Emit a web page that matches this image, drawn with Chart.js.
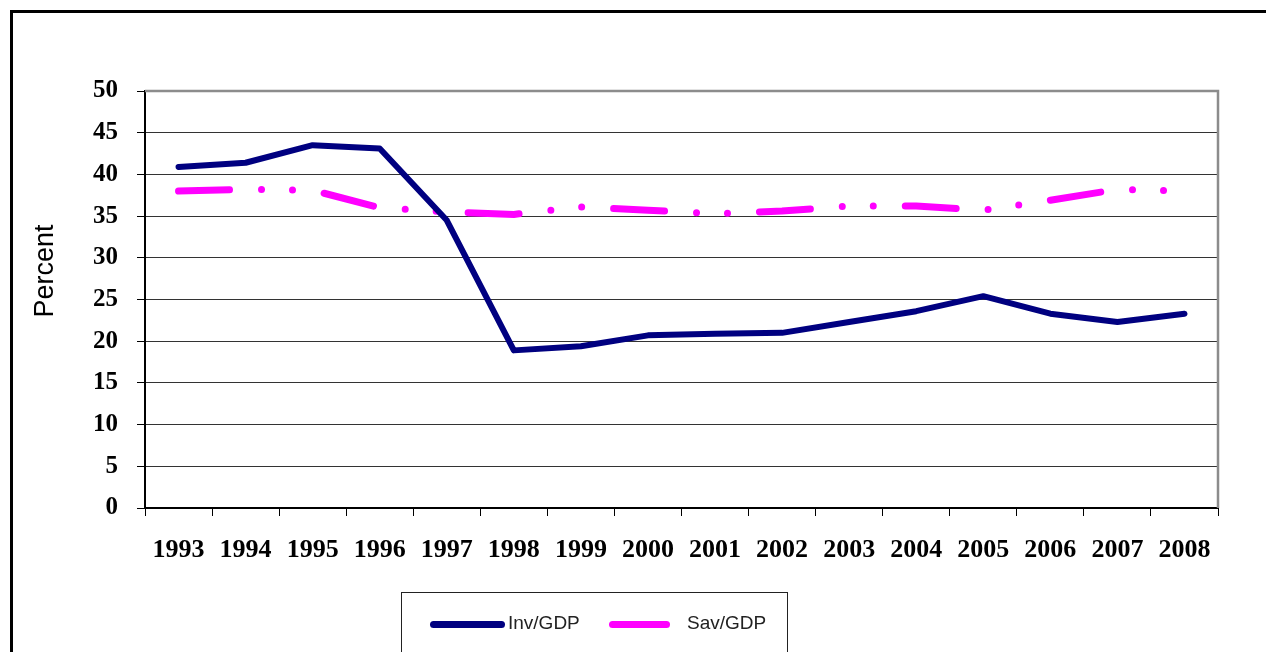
<!DOCTYPE html>
<html>
<head>
<meta charset="utf-8">
<script src="https://cdn.jsdelivr.net/npm/chart.js@4"></script>
<style>
  html, body { margin: 0; padding: 0; background: #fff; }
  #wrap { position: relative; width: 1266px; height: 652px; overflow: hidden; }
  #frame { position: absolute; left: 10px; top: 10px; width: 1300px; height: 700px; border: 3px solid #000; }
  #ytitle { position: absolute; left: 44px; top: 271px; transform: translate(-50%, -50%) rotate(-90deg);
    font: 27px "Liberation Sans", Arial, sans-serif; color: #000; white-space: nowrap; }
  #legend { position: absolute; left: 401px; top: 592px; width: 385px; height: 100px; border: 1.5px solid #222; }
  .key { position: absolute; height: 7px; border-radius: 4px; }
  .lbl { position: absolute; font: 19px "Liberation Sans", Arial, sans-serif; color: #222; line-height: 20px; }
</style>
</head>
<body>
<div id="wrap">
  <canvas id="chart1" width="1266" height="652"></canvas>
  <div id="frame"></div>
  <div id="ytitle">Percent</div>
  <div id="legend"></div>
  <div class="key" style="left:430px; top:621px; width:75px; background:#000080;"></div>
  <div class="lbl" style="left:508px; top:613px;">Inv/GDP</div>
  <div class="key" style="left:609px; top:621px; width:61px; background:#ff00ff;"></div>
  <div class="lbl" style="left:687px; top:613px;">Sav/GDP</div>
</div>
<script>
var years = ["1993", "1994", "1995", "1996", "1997", "1998", "1999", "2000",
             "2001", "2002", "2003", "2004", "2005", "2006", "2007", "2008"];
var invGdp = [40.9, 41.4, 43.5, 43.1, 34.5, 18.9, 19.4, 20.7, 20.9, 21.0, 22.3, 23.6, 25.4, 23.3, 22.3, 23.3];
var savGdp = [38.0, 38.2, 38.1, 36.0, 35.5, 35.2, 36.1, 35.7, 35.3, 35.6, 36.2, 36.2, 35.7, 36.9, 38.2, 38.0];

var yFont = { family: "Liberation Serif", size: 25, weight: "bold" };
var xFont = { family: "Liberation Serif", size: 26, weight: "bold" };

// gray frame on top and right of the plot, like Excel's plot area border
var plotBorder = {
  id: "plotBorder",
  beforeDatasetsDraw: function (chart) {
    var a = chart.chartArea, c = chart.ctx;
    c.save();
    c.strokeStyle = "#8c8c8c";
    c.lineWidth = 2.5;
    c.beginPath();
    c.moveTo(a.left, a.top);
    c.lineTo(a.right, a.top);
    c.lineTo(a.right, a.bottom);
    c.stroke();
    c.restore();
  }
};

var ctx = document.getElementById("chart1");

new Chart(ctx, {
  type: "line",
  data: {
    labels: years,
    datasets: [
      {
        label: "Inv/GDP",
        data: invGdp,
        borderColor: "#000080",
        borderWidth: 6,
        pointRadius: 0,
        borderJoinStyle: "round",
        borderCapStyle: "round",
        tension: 0
      },
      {
        label: "Sav/GDP",
        data: savGdp,
        borderColor: "#ff00ff",
        borderWidth: 7,
        pointRadius: 0,
        borderDash: [51, 32, 0, 31, 0, 32],
        borderJoinStyle: "round",
        borderCapStyle: "round",
        tension: 0
      }
    ]
  },
  options: {
    responsive: false,
    animation: false,
    layout: { padding: { top: 91, right: 48, left: 0, bottom: 0 } },
    plugins: {
      legend: { display: false },
      tooltip: { enabled: false }
    },
    scales: {
      x: {
        offset: true,
        afterFit: function (s) { s.height = 144; },
        grid: { offset: true, drawOnChartArea: false, drawTicks: true, tickLength: 8, color: "#000" },
        border: { color: "#000", width: 2 },
        ticks: { font: xFont, color: "#000", padding: 19, autoSkip: false, maxRotation: 0 }
      },
      y: {
        min: 0,
        max: 50,
        afterFit: function (s) { s.width = 145; },
        grid: { color: "#333", lineWidth: 1, tickLength: 8, tickColor: "#000" },
        border: { color: "#000", width: 2 },
        ticks: { stepSize: 5, font: yFont, color: "#000", padding: 19 }
      }
    }
  },
  plugins: [plotBorder]
});
</script>
</body>
</html>
